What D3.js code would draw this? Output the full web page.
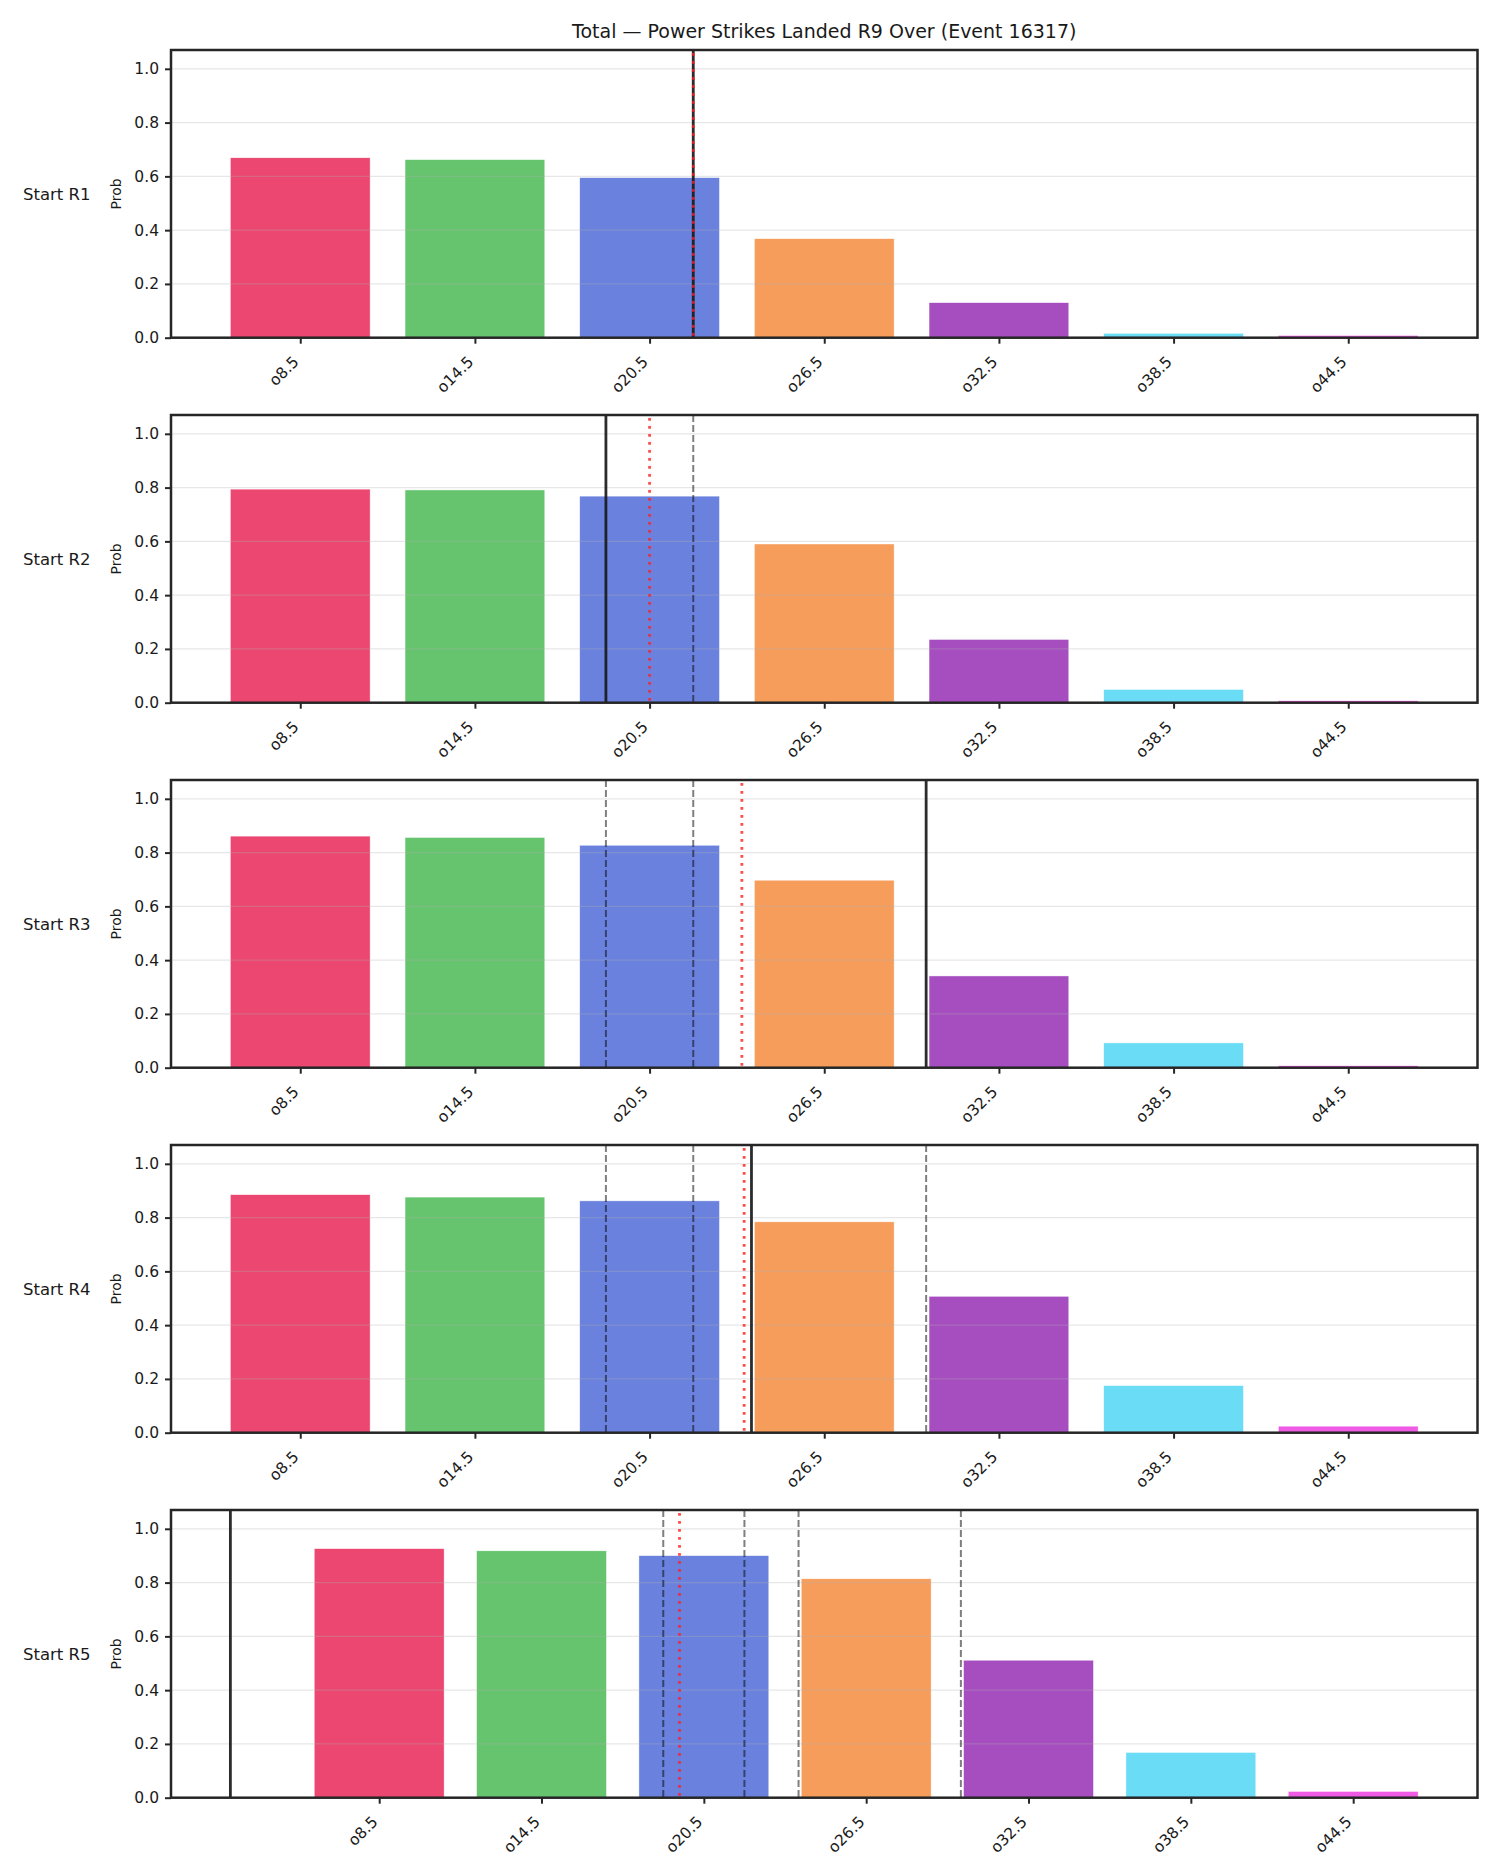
<!DOCTYPE html>
<html>
<head>
<meta charset="utf-8">
<script src="https://cdn.jsdelivr.net/npm/d3@7"></script>
<style>
  body { margin: 0; background: #fff; }
  text { font-family: "DejaVu Sans", sans-serif; fill: #1a1a1a; }
</style>
</head>
<body>
<div id="chart"></div>
<script>
// lines offered (over x.5)
var lineLabels = ["o8.5", "o14.5", "o20.5", "o26.5", "o32.5", "o38.5", "o44.5"];
var lineValues = [8.5, 14.5, 20.5, 26.5, 32.5, 38.5, 44.5];
var roundLabels = ["Start R1", "Start R2", "Start R3", "Start R4", "Start R5"];

// P(over) per line, one array per round
var probR1 = [0.667, 0.660, 0.593, 0.366, 0.128, 0.014, 0.006];
var probR2 = [0.792, 0.789, 0.766, 0.588, 0.233, 0.047, 0.005];
var probR3 = [0.859, 0.854, 0.825, 0.695, 0.339, 0.090, 0.005];
var probR4 = [0.883, 0.874, 0.860, 0.782, 0.505, 0.173, 0.022];
var probR5 = [0.924, 0.916, 0.898, 0.812, 0.509, 0.166, 0.021];

// strikes at start of each round (solid) and running mean (red dotted)
var startValues = [22, 19, 30, 24, 3];
var meanValues = [22, 20.5, 23.67, 23.75, 19.6];

var barColors = ["#eb4770", "#66c46f", "#6a82de", "#f69d5c", "#a64ec0", "#6adcf6", "#f05be6"];
var yTicks = [0.0, 0.2, 0.4, 0.6, 0.8, 1.0];

var probs = [probR1, probR2, probR3, probR4, probR5];

var width = 1500,
    height = 1875,
    left = 171,
    right = 1477.5,
    panelTop = 50,
    panelStep = 365,
    panelH = 287.7,
    barW = 4.8;

var svg = d3.select("#chart")
    .append("svg")
    .attr("width", width)
    .attr("height", height);

svg.append("text")
    .attr("x", (left + right) / 2)
    .attr("y", 38)
    .attr("text-anchor", "middle")
    .style("font-size", "19px")
    .text("Total \u2014 Power Strikes Landed R9 Over (Event 16317)");

probs.forEach(function(vals, i) {
    var top = panelTop + i * panelStep;
    var g = svg.append("g").attr("transform", "translate(0," + top + ")");

    // x extent like matplotlib autoscale: bars + vertical lines, 5% margin
    var lo = d3.min([lineValues[0] - barW / 2, startValues[i], meanValues[i]]);
    var hi = d3.max([lineValues[lineValues.length - 1] + barW / 2, startValues[i], meanValues[i]]);
    var pad = (hi - lo) * 0.05;

    var x = d3.scaleLinear()
        .domain([lo - pad, hi + pad])
        .range([left, right]);

    var y = d3.scaleLinear()
        .domain([0, 1.07])
        .range([panelH, 0]);

    // bars
    g.selectAll(".bar")
        .data(vals)
        .enter()
        .append("rect")
        .attr("x", function(d, j) { return x(lineValues[j] - barW / 2); })
        .attr("width", function(d, j) { return x(lineValues[j] + barW / 2) - x(lineValues[j] - barW / 2); })
        .attr("y", function(d) { return y(d) - 0.6; })
        .attr("height", function(d) { return y(0) - y(d) + 0.6; })
        .style("fill", function(d, j) { return barColors[j]; })
        .style("stroke", "#fff")
        .style("stroke-opacity", 0.7)
        .style("stroke-width", 0.6);

    // grid on top of bars
    g.selectAll(".grid")
        .data(yTicks.slice(1))
        .enter()
        .append("line")
        .attr("x1", left)
        .attr("x2", right)
        .attr("y1", function(d) { return y(d); })
        .attr("y2", function(d) { return y(d); })
        .style("stroke", "#b0b0b0")
        .style("stroke-opacity", 0.3)
        .style("stroke-width", 1.3);

    // previous starts (dashed)
    g.selectAll(".prev")
        .data(startValues.slice(0, i))
        .enter()
        .append("line")
        .attr("x1", function(d) { return x(d); })
        .attr("x2", function(d) { return x(d); })
        .attr("y1", 0)
        .attr("y2", panelH)
        .style("stroke", "#000")
        .style("stroke-opacity", 0.5)
        .style("stroke-width", 2)
        .style("stroke-dasharray", "7,3");

    // current start (solid)
    g.append("line")
        .attr("x1", x(startValues[i]))
        .attr("x2", x(startValues[i]))
        .attr("y1", 0)
        .attr("y2", panelH)
        .style("stroke", "#1a1a1a")
        .style("stroke-opacity", 0.92)
        .style("stroke-width", 2.8);

    // running mean (red dotted)
    g.append("line")
        .attr("x1", x(meanValues[i]))
        .attr("x2", x(meanValues[i]))
        .attr("y1", 3)
        .attr("y2", panelH)
        .style("stroke", "#ff2020")
        .style("stroke-opacity", 0.8)
        .style("stroke-width", 2.8)
        .style("stroke-dasharray", "2.8,5.2");

    // y axis
    var yAxis = d3.axisLeft(y).tickValues(yTicks).tickFormat(d3.format(".1f")).tickSize(6).tickPadding(6);
    var ya = g.append("g")
        .attr("transform", "translate(" + left + ",0)")
        .call(yAxis);
    ya.select(".domain").remove();
    ya.selectAll("text").style("font-size", "15.5px").style("fill", "#1a1a1a");
    ya.selectAll("line").style("stroke", "#262626").style("stroke-width", 2);

    // x axis
    var xAxis = d3.axisBottom(x).tickValues(lineValues).tickFormat(function(d, j) { return lineLabels[j]; }).tickSize(6);
    var xa = g.append("g")
        .attr("transform", "translate(0," + panelH + ")")
        .call(xAxis);
    xa.select(".domain").remove();
    xa.selectAll("line").style("stroke", "#262626").style("stroke-width", 2);
    xa.selectAll("text")
        .style("font-size", "15.5px")
        .style("fill", "#1a1a1a")
        .attr("text-anchor", "end")
        .attr("dy", "0")
        .attr("x", 0)
        .attr("y", 0)
        .attr("transform", "translate(-1,25) rotate(-45)");

    // frame
    g.append("rect")
        .attr("x", left)
        .attr("y", 0)
        .attr("width", right - left)
        .attr("height", panelH)
        .style("fill", "none")
        .style("stroke", "#262626")
        .style("stroke-width", 2.5);

    // labels
    g.append("text")
        .attr("transform", "translate(121," + panelH / 2 + ") rotate(-90)")
        .attr("text-anchor", "middle")
        .style("font-size", "14px")
        .text("Prob");

    g.append("text")
        .attr("x", 23)
        .attr("y", panelH / 2 + 6)
        .style("font-size", "16.5px")
        .text(roundLabels[i]);
});
</script>
</body>
</html>
